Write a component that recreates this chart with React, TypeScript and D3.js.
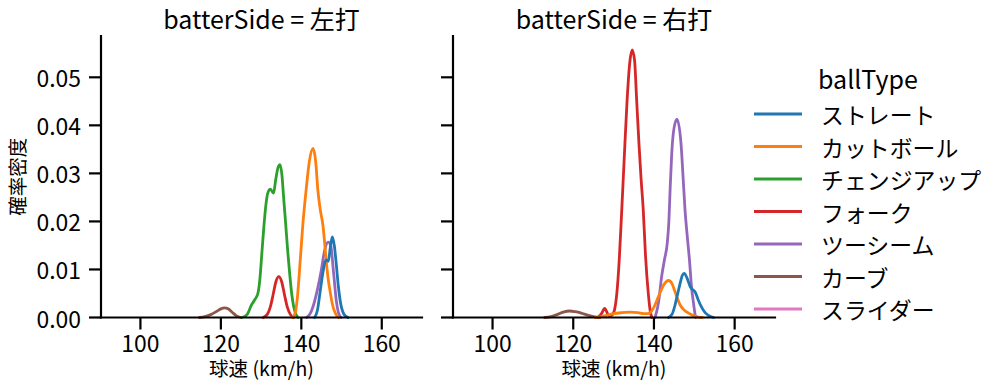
import * as d3 from 'd3'

const FONT = '"Noto Sans CJK JP", "Noto Sans", sans-serif'

const panels = ['左打', '右打']
const ballTypes = ['ストレート', 'カットボール', 'チェンジアップ', 'フォーク', 'ツーシーム', 'カーブ', 'スライダー']
const colors = ['#1f77b4', '#ff7f0e', '#2ca02c', '#d62728', '#9467bd', '#8c564b', '#e377c2']
const xTicks = [100, 120, 140, 160]
const yTicks = [0, 0.01, 0.02, 0.03, 0.04, 0.05]

// density curves: [speed km/h, density]
const leftStraight = [[143.3, 0], [144, 0.0015], [144.7, 0.0055], [145.4, 0.0095], [146.1, 0.012], [146.7, 0.0117], [147.2, 0.0145], [147.7, 0.0168], [148.2, 0.015], [148.7, 0.011], [149.2, 0.0065], [149.7, 0.0033], [150.3, 0.0012], [151, 0.0003], [151.6, 0]]
const leftCutter = [[137.8, 0], [138.5, 0.001], [139, 0.004], [139.8, 0.0127], [140.4, 0.0196], [141.2, 0.0266], [142, 0.0325], [142.9, 0.0352], [143.6, 0.0322], [144.1, 0.0266], [144.7, 0.0225], [145.4, 0.019], [146.1, 0.0127], [146.6, 0.0085], [147.1, 0.0057], [147.8, 0.0025], [148.5, 0.0008], [149.3, 0]]
const leftChangeup = [[125.2, 0], [126.5, 0.0006], [127.6, 0.0026], [128.5, 0.0038], [129.2, 0.005], [129.7, 0.008], [130.2, 0.0135], [130.7, 0.019], [131.2, 0.0235], [131.7, 0.026], [132.3, 0.0267], [132.7, 0.0263], [133.1, 0.0259], [133.6, 0.0285], [134.2, 0.0312], [134.7, 0.0318], [135.2, 0.0295], [135.6, 0.025], [136.1, 0.0196], [136.6, 0.014], [137.1, 0.0092], [137.6, 0.005], [138.1, 0.0023], [138.6, 0.0008], [139.2, 0]]
const leftFork = [[130.5, 0], [131.5, 0.0006], [132.3, 0.0022], [133, 0.0048], [133.7, 0.0075], [134.4, 0.0085], [135.1, 0.0075], [135.8, 0.0048], [136.5, 0.0022], [137.3, 0.0006], [138.1, 0]]
const leftTwoSeam = [[141.3, 0], [142.2, 0.0008], [143, 0.0025], [144, 0.0058], [145, 0.01], [145.8, 0.014], [146.7, 0.0157], [147.3, 0.015], [148, 0.0095], [148.7, 0.0035], [149.3, 0.0008], [149.9, 0]]
const leftCurve = [[114.7, 0], [116, 0.0002], [117.5, 0.0006], [119, 0.0013], [120, 0.0018], [120.9, 0.002], [121.8, 0.0018], [122.8, 0.0011], [123.8, 0.0004], [125, 0]]

const rightStraight = [[143.6, 0], [144.5, 0.0007], [145.2, 0.0025], [145.7, 0.0043], [146.4, 0.0068], [147, 0.0087], [147.5, 0.0092], [148.2, 0.0082], [149, 0.0064], [149.6, 0.0058], [150.2, 0.0053], [151, 0.0036], [151.9, 0.002], [152.8, 0.0009], [153.8, 0.0003], [154.8, 0]]
const rightCutter = [[125.5, 0], [127, 0.0002], [128.5, 0.0005], [130, 0.0008], [132, 0.001], [134, 0.0011], [136, 0.001], [137.5, 0.0008], [138.5, 0.0008], [139.3, 0.0012], [140.2, 0.0025], [141.1, 0.0043], [142.3, 0.0066], [143.6, 0.0077], [144.5, 0.007], [145.2, 0.0054], [145.9, 0.0038], [146.5, 0.0026], [147.3, 0.0017], [148.2, 0.0011], [149.5, 0.0005], [151, 0.0001], [152, 0]]
const rightFork = [[126.1, 0], [127, 0.0008], [127.8, 0.0019], [128.5, 0.0008], [129, 0.0002], [129.6, 0.0005], [130.2, 0.0015], [130.8, 0.005], [131.4, 0.012], [132, 0.022], [132.6, 0.0325], [133.3, 0.0445], [134, 0.053], [134.6, 0.0557], [135.2, 0.0535], [135.7, 0.0455], [136.3, 0.036], [136.8, 0.029], [137.35, 0.0224], [137.9, 0.013], [138.6, 0.005], [139.1, 0.0012], [139.5, 0]]
const rightTwoSeam = [[140.3, 0], [141.2, 0.0035], [141.9, 0.0085], [142.6, 0.012], [143.3, 0.0155], [143.7, 0.02], [144, 0.0265], [144.4, 0.034], [144.9, 0.039], [145.7, 0.0413], [146.7, 0.0363], [147.2, 0.0295], [147.7, 0.0224], [148.3, 0.0165], [148.8, 0.012], [149.3, 0.0065], [149.8, 0.003], [150.3, 0]]
const rightCurve = [[112.9, 0], [114.5, 0.0002], [116, 0.0006], [117.5, 0.0011], [119.1, 0.00135], [120.5, 0.0012], [122, 0.0009], [123.5, 0.0005], [125, 0.0002], [126.6, 0]]

// per panel, in ballTypes order (null = no data in that panel)
const panelCurves = [
  [leftStraight, leftCutter, leftChangeup, leftFork, leftTwoSeam, leftCurve, null],
  [rightStraight, rightCutter, null, rightFork, rightTwoSeam, rightCurve, null],
]

const X_DOMAIN = [90.2, 170]
const Y_DOMAIN = [0, 0.0586]
const PANEL_X = [[101, 422], [453, 775]]
const TOP = 36
const BOTTOM = 317.5
const AXIS_W = 2.2

const Panel = ({ idx }: { idx: number }) => {
  const [x0, x1] = PANEL_X[idx]
  const x = d3.scaleLinear().domain(X_DOMAIN).range([x0, x1])
  const y = d3.scaleLinear().domain(Y_DOMAIN).range([BOTTOM, TOP])
  const line = d3.line<number[]>()
    .x(d => x(d[0]))
    .y(d => y(d[1]))
    .curve(d3.curveMonotoneX)
  const cx = (x0 + x1) / 2
  const curves = panelCurves[idx]
  // seaborn draws hue levels in reverse, so the first one ends on top
  const order = d3.range(curves.length).reverse()

  return <g>
    <text x={cx} y={28.5} textAnchor="middle" fontSize={25} fill="#000">batterSide = {panels[idx]}</text>
    {order.map(i => curves[i] ? <path key={i} d={line(curves[i] as number[][]) || ''} fill="none"
      stroke={colors[i]} strokeWidth={2.8} strokeLinejoin="round" strokeLinecap="round" /> : null)}
    <line x1={x0} x2={x0} y1={TOP} y2={BOTTOM} stroke="#000" strokeWidth={AXIS_W} strokeLinecap="square" />
    <line x1={x0} x2={x1} y1={BOTTOM} y2={BOTTOM} stroke="#000" strokeWidth={AXIS_W} strokeLinecap="square" />
    {xTicks.map(t => <g key={t}>
      <line x1={x(t)} x2={x(t)} y1={BOTTOM} y2={BOTTOM + 12} stroke="#000" strokeWidth={AXIS_W} />
      <text x={x(t)} y={352} textAnchor="middle" fontSize={22.9} fill="#000">{t}</text>
    </g>)}
    {yTicks.map(t => <g key={t}>
      <line x1={x0 - 12} x2={x0} y1={y(t)} y2={y(t)} stroke="#000" strokeWidth={AXIS_W} />
      {idx === 0 ? <text x={x0 - 20} y={y(t)} textAnchor="end" dominantBaseline="central" fontSize={22.9} fill="#000">{d3.format('.2f')(t)}</text> : null}
    </g>)}
    <text x={cx} y={376} textAnchor="middle" fontSize={19.5} fill="#000">球速 (km/h)</text>
    {idx === 0 ? <text transform={`translate(16,${(TOP + BOTTOM) / 2}) rotate(-90)`} textAnchor="middle"
      dominantBaseline="central" fontSize={19.5} fill="#000">確率密度</text> : null}
  </g>
}

const Legend = () => {
  const ly = d3.scalePoint<string>().domain(ballTypes).range([114, 309])
  return <g>
    <text x={818} y={89} fontSize={25} fill="#000">ballType</text>
    {ballTypes.map((b, i) => <g key={b}>
      <line x1={754} x2={802} y1={ly(b)} y2={ly(b)} stroke={colors[i]} strokeWidth={2.8} />
      <text x={821} y={ly(b)} dominantBaseline="central" fontSize={22.9} fill="#000">{b}</text>
    </g>)}
  </g>
}

export default function App() {
  return <svg width={999} height={391} viewBox="0 0 999 391"
    style={{ position: 'absolute', left: 0, top: 0, background: '#fff', fontFamily: FONT }}>
    <rect width={999} height={391} fill="#fff" />
    <Panel idx={0} />
    <Panel idx={1} />
    <Legend />
  </svg>
}
